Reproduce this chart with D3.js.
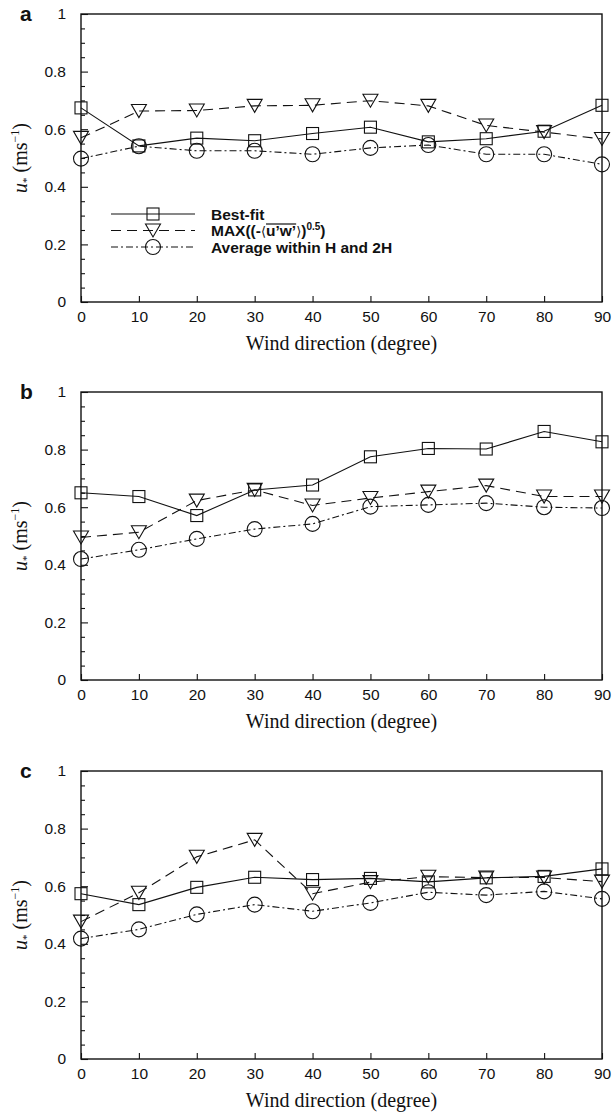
<!DOCTYPE html>
<html>
<head>
<meta charset="utf-8">
<script src="https://cdn.jsdelivr.net/npm/d3@7"></script>
<style>
  body { margin: 0; background: #fff; }
  svg { display: block; }
</style>
</head>
<body>
<svg id="chart" width="612" height="1115"></svg>
<script>
// Wind directions (degrees) shared by every panel
const directions = [0, 10, 20, 30, 40, 50, 60, 70, 80, 90];
const panelNames = ["a", "b", "c"];

// u* estimates (m/s) for each panel
const bestFitA = [0.674, 0.542, 0.569, 0.560, 0.585, 0.607, 0.556, 0.567, 0.593, 0.683];
const maxStressA = [0.570, 0.663, 0.665, 0.681, 0.683, 0.699, 0.681, 0.613, 0.590, 0.566];
const avgLayerA = [0.498, 0.541, 0.525, 0.525, 0.513, 0.535, 0.545, 0.513, 0.513, 0.478];

const bestFitB = [0.650, 0.637, 0.571, 0.660, 0.677, 0.775, 0.804, 0.802, 0.863, 0.827];
const maxStressB = [0.495, 0.513, 0.623, 0.660, 0.606, 0.632, 0.654, 0.675, 0.637, 0.637];
const avgLayerB = [0.420, 0.452, 0.490, 0.524, 0.542, 0.602, 0.608, 0.614, 0.600, 0.597];

const bestFitC = [0.574, 0.536, 0.596, 0.631, 0.623, 0.627, 0.615, 0.629, 0.634, 0.660];
const maxStressC = [0.477, 0.577, 0.702, 0.761, 0.574, 0.614, 0.633, 0.630, 0.630, 0.616];
const avgLayerC = [0.418, 0.450, 0.502, 0.536, 0.513, 0.542, 0.579, 0.569, 0.582, 0.556];

const yTickValues = [0, 0.2, 0.4, 0.6, 0.8, 1];
const yMinorValues = [0.05, 0.1, 0.15, 0.25, 0.3, 0.35, 0.45, 0.5, 0.55, 0.65, 0.7, 0.75, 0.85, 0.9, 0.95];
const xTickValues = [0, 10, 20, 30, 40, 50, 60, 70, 80, 90];
const seriesNames = ["Best-fit", "MAX", "Average within H and 2H"];

const panels = [
  { name: panelNames[0], series: [bestFitA, maxStressA, avgLayerA] },
  { name: panelNames[1], series: [bestFitB, maxStressB, avgLayerB] },
  { name: panelNames[2], series: [bestFitC, maxStressC, avgLayerC] }
];

// Layout
const plotLeft = 81, plotRight = 602, plotHeight = 288;
const panelTops = [14, 392, 771];
const sansFont = "'Liberation Sans', Arial, Helvetica, sans-serif";
const serifFont = "'Liberation Serif', 'Times New Roman', serif";
const ink = "#111";

const lineStyles = [
  { dash: null, marker: "square" },
  { dash: "10,6", marker: "triangle" },
  { dash: "7,3,2,3", marker: "circle" }
];

const svg = d3.select("#chart");
const x = d3.scaleLinear().domain([0, 90]).range([plotLeft, plotRight]);

function drawMarker(sel, kind) {
  if (kind === "square") {
    sel.append("rect").attr("x", -6).attr("y", -6).attr("width", 12).attr("height", 12);
  } else if (kind === "triangle") {
    sel.append("path").attr("d", "M-7.5,-6.5L7.5,-6.5L0,6.5Z");
  } else {
    sel.append("circle").attr("r", 7.5);
  }
  sel.attr("fill", "none").attr("stroke", ink).attr("stroke-width", 1.1);
}

panels.forEach((panel, pi) => {
  const top = panelTops[pi];
  const y = d3.scaleLinear().domain([0, 1]).range([top + plotHeight, top]);
  const g = svg.append("g");

  // Y axis: labelled major ticks and short minor ticks pointing inward
  const yAxis = d3.axisLeft(y).tickValues(yTickValues).tickSize(-7).tickPadding(15)
    .tickFormat(d => d === 0 || d === 1 ? String(d) : d3.format(".1f")(d));
  const yg = g.append("g").attr("transform", `translate(${plotLeft},0)`).call(yAxis);
  yg.select(".domain").remove();
  yg.selectAll(".tick line").attr("stroke", ink).attr("stroke-width", 1.1);
  yg.selectAll(".tick text").attr("font-family", sansFont).attr("font-size", 15.5).attr("fill", ink);

  const yMinor = d3.axisLeft(y).tickValues(yMinorValues).tickSize(-4).tickFormat("");
  const ymg = g.append("g").attr("transform", `translate(${plotLeft},0)`).call(yMinor);
  ymg.select(".domain").remove();
  ymg.selectAll(".tick line").attr("stroke", ink).attr("stroke-width", 1.1);

  // X axis
  const xAxis = d3.axisBottom(x).tickValues(xTickValues).tickSize(-6).tickPadding(9);
  const xg = g.append("g").attr("transform", `translate(0,${top + plotHeight})`).call(xAxis);
  xg.select(".domain").remove();
  xg.selectAll(".tick line").attr("stroke", ink).attr("stroke-width", 1.1);
  xg.selectAll(".tick text").attr("font-family", sansFont).attr("font-size", 15.5).attr("fill", ink);

  // Frame
  g.append("rect")
    .attr("x", plotLeft).attr("y", top)
    .attr("width", plotRight - plotLeft).attr("height", plotHeight)
    .attr("fill", "none").attr("stroke", ink).attr("stroke-width", 1.4);

  // Series lines and markers
  panel.series.forEach((vals, si) => {
    const style = lineStyles[si];
    const line = d3.line().x((d, i) => x(directions[i])).y(d => y(d));
    g.append("path").datum(vals)
      .attr("d", line)
      .attr("fill", "none").attr("stroke", ink).attr("stroke-width", 1.1)
      .attr("stroke-dasharray", style.dash);
    g.selectAll(null).data(vals).enter().append("g")
      .attr("transform", (d, i) => `translate(${x(directions[i])},${y(d)})`)
      .each(function () { drawMarker(d3.select(this), style.marker); });
  });

  // Panel letter
  g.append("text").attr("x", 20).attr("y", top + 7)
    .attr("font-family", sansFont).attr("font-weight", "bold").attr("font-size", 21)
    .attr("fill", ink).text(panel.name);

  // Axis titles
  g.append("text").attr("x", (plotLeft + plotRight) / 2).attr("y", top + plotHeight + 48)
    .attr("text-anchor", "middle").attr("font-family", serifFont).attr("font-size", 20)
    .attr("fill", ink).text("Wind direction (degree)");

  const yt = g.append("text")
    .attr("transform", `translate(27,${top + plotHeight / 2}) rotate(-90)`)
    .attr("text-anchor", "middle").attr("font-family", serifFont).attr("font-size", 20)
    .attr("fill", ink);
  yt.append("tspan").attr("font-style", "italic").text("u");
  yt.append("tspan").attr("font-size", 11).attr("dy", 3).text("*");
  yt.append("tspan").attr("dy", -3).text(" (ms");
  yt.append("tspan").attr("font-size", 12).attr("dy", -8).text("\u22121");
  yt.append("tspan").attr("dy", 8).text(")");

  // Legend (panel a only)
  if (pi === 0) {
    const legendY = [214, 230.5, 247];
    const lx0 = 111, lx1 = 195, lmx = 153, tx = 211;
    lineStyles.forEach((style, si) => {
      const ly = legendY[si];
      g.append("line").attr("x1", lx0).attr("x2", lx1).attr("y1", ly).attr("y2", ly)
        .attr("stroke", ink).attr("stroke-width", 1.1).attr("stroke-dasharray", style.dash);
      const m = g.append("g").attr("transform", `translate(${lmx},${ly})`);
      drawMarker(m, style.marker);
    });
    const labelBase = {
      "font-family": sansFont, "font-weight": "bold", "font-size": 15.5, fill: ink
    };
    const t0 = g.append("text").attr("x", tx).attr("y", legendY[0] + 5.5).text(seriesNames[0]);
    const t2 = g.append("text").attr("x", tx).attr("y", legendY[2] + 5.5).text(seriesNames[2]);
    const t1 = g.append("text").attr("x", tx).attr("y", legendY[1] + 5.5);
    t1.append("tspan").text("MAX((-");
    t1.append("tspan").attr("font-weight", "normal").attr("font-family", "'DejaVu Sans', sans-serif")
      .attr("font-size", 13).text("\u27E8");
    t1.append("tspan").text("u\u2019w\u2019");
    t1.append("tspan").attr("font-weight", "normal").attr("font-family", "'DejaVu Sans', sans-serif")
      .attr("font-size", 13).text("\u27E9");
    t1.append("tspan").text(")");
    t1.append("tspan").attr("font-size", 10).attr("dy", -6).text("0.5");
    t1.append("tspan").attr("dy", 6).text(")");
    [t0, t1, t2].forEach(t => Object.entries(labelBase).forEach(([k, v]) => t.attr(k, v)));
    // Overline above u'w'
    const node = t1.node();
    const sx = node.getStartPositionOfChar(7).x;
    const ex = node.getEndPositionOfChar(10).x;
    g.append("line").attr("x1", sx).attr("x2", ex)
      .attr("y1", legendY[1] - 6.5).attr("y2", legendY[1] - 6.5)
      .attr("stroke", ink).attr("stroke-width", 1.2);
  }
});
</script>
</body>
</html>
